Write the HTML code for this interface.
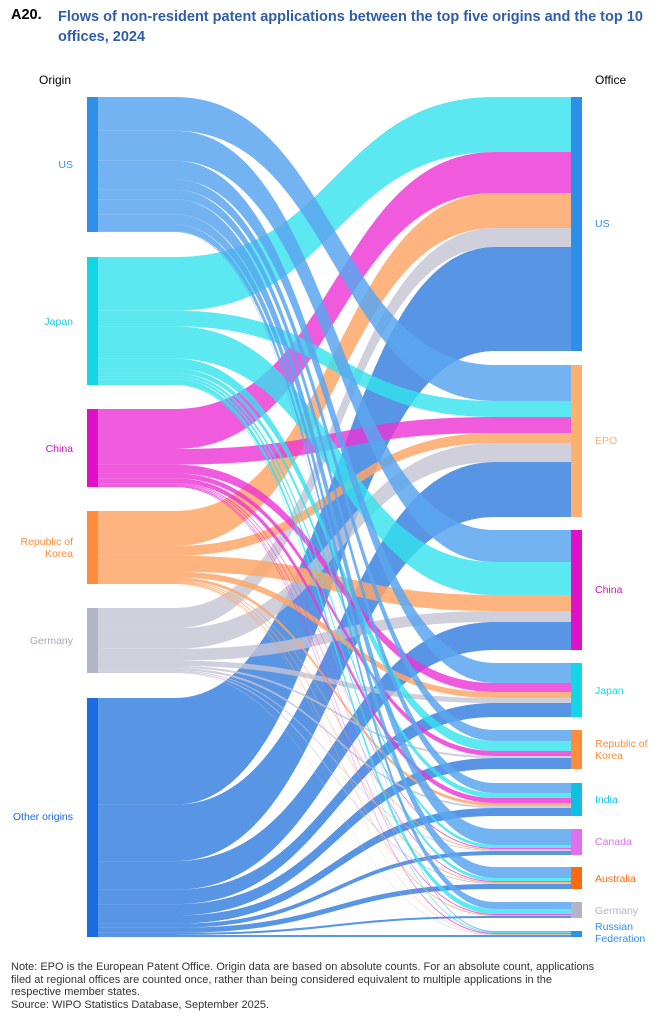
<!DOCTYPE html>
<html><head><meta charset="utf-8"><style>
body{margin:0;background:#fff;width:660px;height:1020px;overflow:hidden;font-family:"Liberation Sans",sans-serif;}
.t{position:absolute;left:11px;top:7px;font-size:14.5px;font-weight:bold;color:#000;}
.t2{position:absolute;left:58px;top:7px;font-size:14.5px;font-weight:bold;color:#2f5da8;line-height:20px;width:600px;}
.note{position:absolute;left:11px;top:961px;font-size:11px;color:#333;line-height:12.5px;width:650px;white-space:nowrap;}
</style></head><body>
<div class="t">A20.</div>
<div class="t2">Flows of non-resident patent applications between the top five origins and the top 10 offices, 2024</div>
<svg id="s" width="660" height="1020" style="position:absolute;left:0;top:0"></svg>
<div class="note">Note: EPO is the European Patent Office. Origin data are based on absolute counts. For an absolute count, applications<br>filed at regional offices are counted once, rather than being considered equivalent to multiple applications in the<br>respective member states.<br>Source: WIPO Statistics Database, September 2025.</div>
<script>
var O={US:[97,232,'#2e8fe8','rgba(90,166,238,0.85)'],JP:[257,385,'#12d6e6','rgba(50,226,238,0.8)'],CN:[409,487,'#e010c8','rgba(236,50,214,0.8)'],KR:[511,584,'#ff8c3a','rgba(255,166,104,0.85)'],DE:[608,673,'#b4b4c8','rgba(196,196,212,0.8)'],OT:[698,937,'#1a6ae0','rgba(60,130,224,0.85)']};
var olab=[['US','US',164,'#3a8fe0'],['JP','Japan',321,'#20c8e0'],['CN','China',448,'#d010c0'],['KR','Republic of\nKorea',547,'#ff8c3a'],['DE','Germany',640,'#a8a8c0'],['OT','Other origins',816,'#1a6ae0']];
var F=[
['US','#2e8fe8',[['JP',97,152],['CN',152,193],['KR',193,228],['DE',228,247],['OT',247,351]],'US',223],
['EPO','#ffb070',[['US',365,401],['JP',401,417],['CN',417,433],['KR',433,443],['DE',443,462],['OT',462,517]],'EPO',440],
['CN','#e010c8',[['US',530,562],['JP',562,595],['KR',595,611],['DE',611,622],['OT',622,650]],'China',589],
['JP','#12d6e6',[['US',663,683],['CN',683,692],['KR',692,698],['DE',698,703],['OT',703,717]],'Japan',690],
['KR','#ff8c3a',[['US',730,741],['JP',741,751],['CN',751,756],['DE',756,758],['OT',758,769]],'Republic of\nKorea',749],
['IN','#10c0e0',[['US',783,793],['JP',793,798],['CN',798,803],['KR',803,806],['DE',806,808],['OT',808,816]],'India',799],
['CA','#e070f0',[['US',829,845],['JP',845,848],['CN',848,849],['KR',849,850],['DE',850,851],['OT',851,855]],'Canada',841],
['AU','#ff6a10',[['US',867,878],['JP',878,881],['CN',881,882],['KR',882,883],['DE',883,884],['OT',884,889]],'Australia',878],
['GE','#b4b4c8',[['US',902,909],['JP',909,914],['CN',914,915],['KR',915,916],['OT',916,918]],'Germany',910],
['RU','#2e8fe8',[['US',931,932],['JP',932,933],['CN',933,934],['KR',934,934.5],['DE',934.5,935],['OT',935,937]],'Russian\nFederation',932]];
var sums={},cur={};for(var k in O){sums[k]=0;cur[k]=O[k][0];}
F.forEach(function(f){f[2].forEach(function(l){sums[l[0]]+=l[2]-l[1];});});
var h='';
var x0=98,x1=571,c0=175,c1=495;
F.forEach(function(f){f[2].forEach(function(l){var o=O[l[0]];var sc=(o[1]-o[0])/sums[l[0]];var w=(l[2]-l[1])*sc;var a=cur[l[0]],b=a+w;cur[l[0]]=b;var m=(c0+c1)/2;
h+='<path fill="'+o[3]+'" d="M'+x0+','+a+'L'+c0+','+a+'C'+m+','+a+' '+m+','+l[1]+' '+c1+','+l[1]+'L'+x1+','+l[1]+'L'+x1+','+l[2]+'L'+c1+','+l[2]+'C'+m+','+l[2]+' '+m+','+b+' '+c0+','+b+'L'+x0+','+b+'Z"/>';});});
for(var k in O){h+='<rect x="87" y="'+O[k][0]+'" width="11" height="'+(O[k][1]-O[k][0])+'" fill="'+O[k][2]+'"/>';}
F.forEach(function(f){var a=f[2][0][1],b=f[2][f[2].length-1][2];h+='<rect x="571" y="'+a+'" width="11" height="'+(b-a)+'" fill="'+f[1]+'"/>';
var ls=f[3].split('\n');ls.forEach(function(s,i){h+='<text x="595" y="'+(f[4]+4+(i-(ls.length-1)/2)*12)+'" font-size="10.5" fill="'+f[1]+'">'+s+'</text>';});});
olab.forEach(function(o){var ls=o[1].split('\n');ls.forEach(function(s,i){h+='<text x="73" text-anchor="end" y="'+(o[2]+4+(i-(ls.length-1)/2)*12)+'" font-size="10.5" fill="'+o[3]+'">'+s+'</text>';});});
h+='<text x="39" y="84" font-size="12" fill="#000">Origin</text><text x="595" y="84" font-size="12" fill="#000">Office</text>';
document.getElementById('s').innerHTML=h;
</script>
</body></html>
